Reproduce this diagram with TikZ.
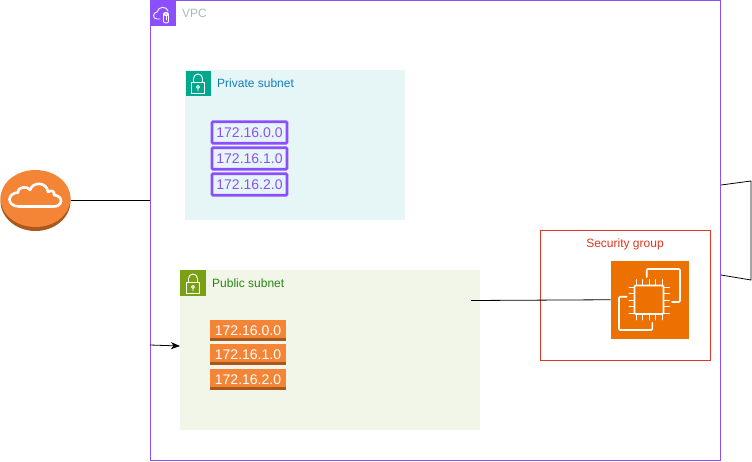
\documentclass[tikz,border=0pt]{standalone}
\usepackage{fontspec}
\setmainfont{Liberation Sans}
\usepackage{xcolor}
\usetikzlibrary{calc,arrows.meta}
\definecolor{vpcc}{HTML}{8C4FFF}
\definecolor{vpctxt}{HTML}{AAB7B8}
\definecolor{privc}{HTML}{01A88D}
\definecolor{privbg}{HTML}{E6F6F7}
\definecolor{privtxt}{HTML}{147EBA}
\definecolor{pubc}{HTML}{7AA116}
\definecolor{pubbg}{HTML}{F2F6E8}
\definecolor{pubtxt}{HTML}{248814}
\definecolor{orng}{HTML}{F58536}
\definecolor{orngd}{HTML}{A9581E}
\definecolor{sgc}{HTML}{DD3522}
\definecolor{ec2c}{HTML}{ED7100}
\tikzset{
  lnk/.style={draw=black, line width=0.8pt},
  area/.style={anchor=north west, inner sep=0pt, outer sep=0pt},
  tag/.style={anchor=north west, inner sep=0pt, outer sep=0pt, minimum width=25.5pt, minimum height=25.5pt},
  lab/.style={anchor=west, inner sep=0pt, font=\fontsize{12}{14}\selectfont},
  cidrp/.style={draw=vpcc, line width=2.6pt, rounded corners=1pt, inner sep=0pt, text=vpcc,
    minimum width=75pt, minimum height=21.5pt, font=\fontsize{14}{16}\selectfont},
  cidro/.style={fill=orng, inner sep=0pt, text=white, minimum width=76pt, minimum height=21pt,
    font=\fontsize{14}{16}\selectfont},
  ico/.style={draw=white, line width=0.9pt, line cap=round, line join=round},
  wht/.style={draw=white, line width=1.6pt, line cap=round, line join=round, rounded corners=1pt},
  lockpic/.pic={
    \draw[ico] (-6.5,-2.5) rectangle (6.5,8);
    \draw[ico] (-4.5,-2.5) -- (-4.5,-6.5) arc[start angle=180, end angle=360, radius=4.5] -- (4.5,-2.5);
    \draw[ico] (0,2) circle (1.5) (0,3.5) -- (0,6);
  },
}
\begin{document}
\begin{tikzpicture}[x=1pt,y=-1pt]
  \useasboundingbox (0,0) rectangle (752,461);

  % vpc
  \node[draw, color=vpcc, line width=0.8pt, area, minimum width=570pt, minimum height=460pt] (vpc) at (150.5,0.5) {};
  \node[fill=vpcc, tag] (vpcicon) at (150,0) {};
  \draw[ico] (160,19) -- (157,19) .. controls (152,19) and (153,12) .. (157,12) .. controls (158,6) and (167,6) .. (168,11);
  \draw[ico] (168.5,14) arc[start angle=0, end angle=360, x radius=2.5, y radius=1.5] -- (163.5,14) -- (163.5,21.5) arc[start angle=180, end angle=0, x radius=2.5, y radius=1.5] -- (168.5,14);
  \draw[ico] (166,16) -- (166,20);
  \node[lab, text=vpctxt] (vpclab) at (182,13) {VPC};

  % private subnet
  \node[fill=privbg, area, minimum width=220pt, minimum height=150pt] (priv) at (185,70) {};
  \node[fill=privc, tag] (privicon) at (185.5,70.5) {};
  \pic at (198,85) {lockpic};
  \node[lab, text=privtxt] (privlab) at (217,83) {Private subnet};
  \node[cidrp] (p0) at (249.5,132.5) {172.16.0.0};
  \node[cidrp] (p1) at (249.5,158.5) {172.16.1.0};
  \node[cidrp] (p2) at (249.5,184.5) {172.16.2.0};

  % public subnet
  \node[fill=pubbg, area, minimum width=300pt, minimum height=160pt] (pub) at (180,270) {};
  \node[fill=pubc, tag] (pubicon) at (180,270) {};
  \pic at (193,285) {lockpic};
  \node[lab, text=pubtxt] (publab) at (212,283) {Public subnet};
  \foreach \n/\y/\t in {o0/330.5/172.16.0.0, o1/354.5/172.16.1.0, o2/379.5/172.16.2.0}{
    \node[cidro] (\n) at (248,\y) {\t};
    \fill[orngd] ($(\n.south west)+(0,-3)$) rectangle (\n.south east);
  }

  % gateway
  \fill[orngd] (35.5,201) ellipse (35 and 30);
  \fill[orng] (35.5,198.5) ellipse (35 and 28.5);
  \node[inner sep=0pt, minimum width=70pt, minimum height=60pt] (igw) at (35.5,200) {};
  \draw[white, line width=2.6pt, line join=round] (19,206.5)
    .. controls (6,206) and (7,193) .. (18,192.5)
    .. controls (18,186) and (28,186) .. (30,190)
    .. controls (33,181) and (47,182) .. (48,192)
    .. controls (52,189) and (55,192) .. (54,195)
    .. controls (64,196) and (63,207) .. (53,206.5) -- cycle;

  % security group
  \node[draw, color=sgc, line width=0.8pt, area, minimum width=170pt, minimum height=130pt] (sg) at (540.5,230.5) {};
  \node[lab, anchor=center, text=sgc] (sglab) at (625,244) {Security group};

  % instance
  \node[fill=ec2c, area, minimum width=78.5pt, minimum height=78.5pt] (ec2) at (610.5,260.5) {};
  \draw[wht] (646.7,277) -- (646.7,269) -- (680,269) -- (680,302) -- (672,302);
  \draw[wht] (626.7,296.7) -- (619,296.7) -- (619,330) -- (652.3,330) -- (652.3,322.7);
  \draw[draw=ec2c, fill=ec2c] (632,284) rectangle (665,316);
  \draw[wht] (634.5,285.5) rectangle (663.5,314);
  \foreach \d in {0,1,2,3,4}{
    \draw[ico] ({636+6.5*\d},279.5) -- ({636+6.5*\d},285);
    \draw[ico] ({636+6.5*\d},314) -- ({636+6.5*\d},320);
    \draw[ico] (629,{287+6.5*\d}) -- (634.5,{287+6.5*\d});
    \draw[ico] (663.5,{287+6.5*\d}) -- (669.5,{287+6.5*\d});
  }

  % links
  \coordinate (vpcw) at (150,200);
  \coordinate (vpcs) at (150,345);
  \coordinate (pubin) at (471,300.5);
  \coordinate (vpce) at (721,185);
  \coordinate (vpcf) at (721,275);
  \coordinate (ra) at (751,181);
  \coordinate (rb) at (751,280);
  \draw[lnk] (igw.east) -- (vpcw);
  \draw[lnk, -{Stealth[length=9pt,width=7pt,inset=2.5pt]}] (vpcs) -- (pub.west |- 0,346);
  \draw[lnk] (pubin) -- (ec2.west);
  \draw[lnk] (vpce) -- (ra) -- (rb) -- (vpcf);
\end{tikzpicture}
\end{document}
